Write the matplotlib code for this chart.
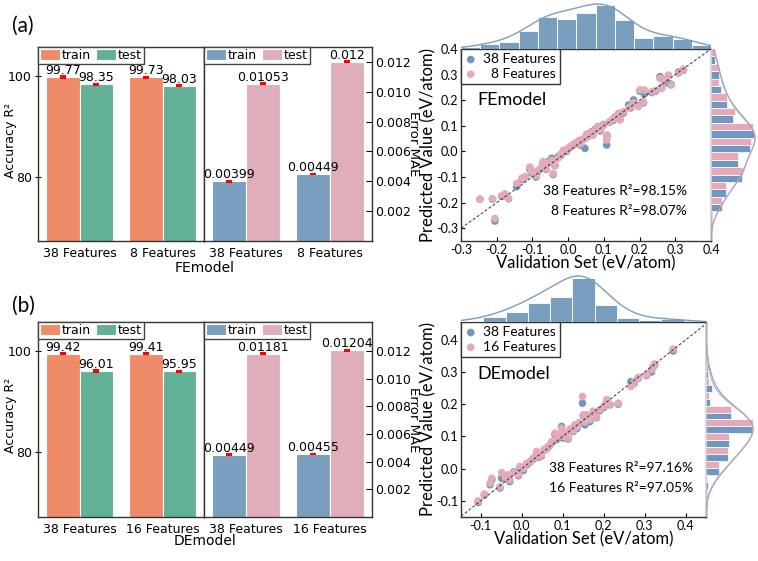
import numpy as np
import matplotlib
matplotlib.use('Agg')
import matplotlib.pyplot as plt
from matplotlib.ticker import FormatStrFormatter

plt.rcParams['axes.unicode_minus'] = False
plt.rcParams['font.family'] = ['DejaVu Sans']
SC_FONT = ['Lato', 'DejaVu Sans']

# ---------------- data ----------------
groups_a = ['38 Features', '8 Features']
groups_b = ['38 Features', '16 Features']
r2_train_a = [99.77, 99.73]
r2_test_a = [98.35, 98.03]
mae_train_a = [0.00399, 0.00449]
mae_test_a = [0.01053, 0.012]
r2_train_b = [99.42, 99.41]
r2_test_b = [96.01, 95.95]
mae_train_b = [0.00449, 0.00455]
mae_test_b = [0.01181, 0.01204]
r2_err = 0.12
mae_err = 0.00003

# scatter (a): validation values and predictions
sa_x = [-0.247, -0.212, -0.205, -0.186, -0.177, -0.167, -0.144, -0.130, -0.120, -0.107,
        -0.102, -0.095, -0.090, -0.085, -0.074, -0.070, -0.062, -0.055, -0.046, -0.042,
        -0.037, -0.028, -0.020, -0.013, -0.005, 0.000, 0.005, 0.010, 0.015, 0.019,
        0.025, 0.030, 0.035, 0.040, 0.047, 0.052, 0.056, 0.060, 0.066, 0.070,
        0.075, 0.080, 0.084, 0.090, 0.095, 0.100, 0.108, 0.109, 0.117, 0.125,
        0.131, 0.141, 0.145, 0.155, 0.169, 0.175, 0.183, 0.197, 0.201, 0.211,
        0.213, 0.234, 0.245, 0.257, 0.262, 0.267, 0.281, 0.288, 0.309, 0.323]
sa_y38 = [-0.187, -0.187, -0.272, -0.176, -0.170, -0.185, -0.138, -0.110, -0.100, -0.070,
          -0.085, -0.090, -0.100, -0.080, -0.065, -0.045, -0.070, -0.040, -0.027, -0.090,
          -0.055, -0.020, -0.015, 0.000, 0.000, 0.010, 0.015, 0.020, 0.025, 0.030,
          0.035, 0.040, 0.025, 0.045, 0.012, 0.066, 0.060, 0.070, 0.077, 0.065,
          0.085, 0.090, 0.097, 0.080, 0.100, 0.105, 0.025, 0.060, 0.115, 0.120,
          0.130, 0.145, 0.125, 0.150, 0.181, 0.170, 0.201, 0.178, 0.235, 0.190,
          0.224, 0.230, 0.235, 0.292, 0.250, 0.280, 0.266, 0.262, 0.310, 0.318]
sa_y8 = [-0.187, -0.185, -0.262, -0.173, -0.166, -0.183, -0.125, -0.105, -0.098, -0.061,
         -0.079, -0.088, -0.095, -0.075, -0.060, -0.040, -0.068, -0.045, -0.035, -0.086,
         -0.053, -0.027, -0.010, 0.005, 0.005, 0.012, 0.018, 0.022, 0.028, 0.031,
         0.033, 0.042, 0.030, 0.048, 0.050, 0.064, 0.058, 0.072, 0.075, 0.068,
         0.082, 0.088, 0.095, 0.085, 0.098, 0.103, 0.045, 0.064, 0.116, 0.125,
         0.136, 0.149, 0.123, 0.155, 0.170, 0.175, 0.190, 0.175, 0.240, 0.194,
         0.240, 0.233, 0.238, 0.285, 0.246, 0.279, 0.298, 0.259, 0.305, 0.321]

# scatter (b)
sb_x = [-0.106, -0.091, -0.077, -0.073, -0.053, -0.049, -0.040, -0.033, -0.029, -0.020,
        -0.008, -0.004, 0.004, 0.012, 0.020, 0.028, 0.036, 0.042, 0.048, 0.055,
        0.061, 0.067, 0.073, 0.081, 0.085, 0.090, 0.097, 0.100, 0.105, 0.113,
        0.118, 0.125, 0.130, 0.135, 0.140, 0.148, 0.150, 0.154, 0.158, 0.162,
        0.166, 0.174, 0.182, 0.190, 0.200, 0.207, 0.215, 0.235, 0.266, 0.274,
        0.284, 0.304, 0.316, 0.320, 0.324, 0.369]
sb_y38 = [-0.105, -0.082, -0.050, -0.035, -0.060, -0.030, -0.030, -0.022, -0.040, -0.010,
          -0.022, 0.002, -0.006, 0.012, 0.020, 0.030, 0.048, 0.035, 0.040, 0.058,
          0.062, 0.070, 0.080, 0.105, 0.090, 0.100, 0.131, 0.095, 0.108, 0.092,
          0.120, 0.115, 0.135, 0.125, 0.140, 0.203, 0.165, 0.136, 0.165, 0.155,
          0.146, 0.175, 0.158, 0.180, 0.190, 0.210, 0.198, 0.200, 0.270, 0.265,
          0.281, 0.289, 0.300, 0.315, 0.322, 0.365]
sb_y16 = [-0.100, -0.079, -0.045, -0.030, -0.056, -0.012, -0.027, -0.019, -0.035, -0.012,
          -0.019, 0.007, 0.000, 0.017, 0.022, 0.033, 0.053, 0.038, 0.043, 0.060,
          0.064, 0.072, 0.084, 0.110, 0.095, 0.105, 0.125, 0.100, 0.110, 0.095,
          0.123, 0.118, 0.136, 0.130, 0.143, 0.224, 0.167, 0.145, 0.167, 0.160,
          0.152, 0.178, 0.160, 0.183, 0.195, 0.214, 0.200, 0.203, 0.255, 0.268,
          0.283, 0.291, 0.307, 0.317, 0.325, 0.371]

# marginal histogram counts
top_a_counts = [1.7, 5.3, 7.0, 18.3, 32.0, 30.0, 35.7, 44.3, 28.7, 11.0, 12.7, 9.7, 4.0]
right_a_38 = [0, 0, 11.0, 15.0, 31.3, 27.3, 39.3, 43.3, 21.7, 16.3, 9.7, 8.0, 4.0]
right_a_8 = [0, 0, 11.3, 14.7, 31.7, 27.3, 39.7, 42.3, 24.3, 16.3, 8.3, 8.3, 4.3]
top_b_counts = [1.0, 5.0, 10.0, 19.3, 25.0, 44.3, 17.0, 4.3, 2.0, 2.7, 0.0]
right_b_38 = [0, 0, 1.7, 13.3, 22.3, 23.3, 46.3, 24.7, 4.3, 5.7, 2.3, 0, 0, 0]
right_b_16 = [0, 0, 0.7, 13.3, 22.3, 23.3, 47.3, 24.7, 3.0, 3.0, 3.0, 0, 0, 0]

# ---------------- style ----------------
C_TRAIN_R2 = '#EF8B69'
C_TEST_R2 = '#62B197'
C_TRAIN_MAE = '#7A9EBD'
C_TEST_MAE = '#E0AEB9'
C_S38 = '#6F97C0'
C_SO = '#E5AABA'
C_HIST = '#7A9EBD'
SPINE = '#333333'

W, H = 758, 561
fig = plt.figure(figsize=(W / 100, H / 100), dpi=100)


def box(x0, y0, x1, y1):
    return [x0 / W, 1 - y1 / H, (x1 - x0) / W, (y1 - y0) / H]


def style_spines(ax, lw=1.0):
    for s in ax.spines.values():
        s.set_color(SPINE)
        s.set_linewidth(lw)


def bar_panel(y0, y1, groups, r2tr, r2te, maetr, maete, r2lim, maelim, xlabel, xlabel_y):
    axL = fig.add_axes(box(38, y0, 204, y1))
    axR = fig.add_axes(box(204, y0, 372, y1))
    x = np.arange(len(groups))
    w = 0.4
    for ax, tr, te, ctr, cte, err in [
        (axL, r2tr, r2te, C_TRAIN_R2, C_TEST_R2, r2_err),
        (axR, maetr, maete, C_TRAIN_MAE, C_TEST_MAE, mae_err)]:
        ax.bar(x - w / 2, tr, w, color=ctr, edgecolor='white', linewidth=0.8, label='train', zorder=2)
        ax.bar(x + w / 2, te, w, color=cte, edgecolor='white', linewidth=0.8, label='test', zorder=2)
        ax.errorbar(x - w / 2, tr, yerr=err, fmt='none', ecolor='red', capsize=2,
                    elinewidth=1.2, capthick=1.5, zorder=3)
        ax.errorbar(x + w / 2, te, yerr=err, fmt='none', ecolor='red', capsize=2,
                    elinewidth=1.2, capthick=1.5, zorder=3)
        for xi, v in zip(x - w / 2, tr):
            ax.text(xi, v, '{}'.format(v), ha='center', va='bottom', fontsize=9, zorder=4)
        for xi, v in zip(x + w / 2, te):
            ax.text(xi, v, '{}'.format(v), ha='center', va='bottom', fontsize=9, zorder=4)
        ax.set_xlim(-0.5, 1.5)
        ax.set_xticks(x, groups)
        ax.tick_params(axis='x', length=0, labelsize=9, pad=4)
        style_spines(ax)
        ax.legend(loc='upper left', ncol=2, borderaxespad=0, fontsize=9, handlelength=1.6,
                  handleheight=0.9, handletextpad=0.15, columnspacing=0.4, borderpad=0.15,
                  fancybox=False, edgecolor='#444444', framealpha=1)
    axL.set_ylim(*r2lim)
    axL.set_yticks([80, 100])
    axL.tick_params(axis='y', direction='inout', length=5, labelsize=9, pad=2)
    axL.set_ylabel('Accuracy R\u00b2', fontsize=9)
    axL.yaxis.set_label_coords(-0.125, 0.52)
    axR.set_ylim(*maelim)
    axR.set_yticks([0.002, 0.004, 0.006, 0.008, 0.010, 0.012])
    axR.yaxis.set_major_formatter(FormatStrFormatter('%.3f'))
    axR.yaxis.tick_right()
    axR.tick_params(axis='y', direction='in', length=4, labelsize=9, pad=2)
    axR.yaxis.set_label_position('right')
    axR.set_ylabel('Error MAE', fontsize=9.5, rotation=270, va='bottom')
    axR.yaxis.set_label_coords(1.21, 0.5)
    fig.text(205 / W, 1 - xlabel_y / H, xlabel, ha='center', va='center', fontsize=10)


bar_panel(47, 241, groups_a, r2_train_a, r2_test_a, mae_train_a, mae_test_a,
          (67.3, 105.7), (0, 0.013), 'FEmodel', 268)
bar_panel(322, 517, groups_b, r2_train_b, r2_test_b, mae_train_b, mae_test_b,
          (67.1, 105.7), (0, 0.0141), 'DEmodel', 541)


def kde_curve(lo, hi, counts, bw, peak):
    counts = np.asarray(counts, float)
    edges = np.linspace(lo, hi, len(counts) + 1)
    centers = 0.5 * (edges[:-1] + edges[1:])
    grid = np.linspace(lo, hi, 300)
    dens = (counts[None, :] * np.exp(-0.5 * ((grid[:, None] - centers[None, :]) / bw) ** 2)).sum(1)
    return grid, dens / dens.max() * peak


def scatter_panel(main_box, top_box, right_box, xs, y38, yo, lab_o, xlim, ylim, ticks,
                  model, r2_lines, r2_xy, top_counts, top_ylim, top_peak,
                  r38, ro, right_xlim, right_peak):
    ax = fig.add_axes(box(*main_box))
    axw = main_box[2] - main_box[0]
    ax.scatter(xs, y38, s=30, color=C_S38, edgecolors='none', label='38 Features', zorder=2)
    ax.scatter(xs, yo, s=30, color=C_SO, edgecolors='none', label=lab_o, zorder=3)
    ax.axline((0, 0), slope=1, color='#333333', lw=0.7, ls=(0, (3, 2)), zorder=4)
    ax.set_xlim(*xlim)
    ax.set_ylim(*ylim)
    ax.set_xticks(ticks)
    ax.set_yticks(ticks)
    ax.xaxis.set_major_formatter(FormatStrFormatter('%.1f'))
    ax.yaxis.set_major_formatter(FormatStrFormatter('%.1f'))
    ax.tick_params(direction='in', length=3, labelsize=9, pad=2)
    for lab in ax.get_xticklabels() + ax.get_yticklabels():
        lab.set_family(SC_FONT)
    ax.set_xlabel('Validation Set (eV/atom)', fontsize=12, family=SC_FONT, labelpad=0)
    ax.set_ylabel('Predicted Value (eV/atom)', fontsize=12, family=SC_FONT)
    ax.yaxis.set_label_coords((436 - main_box[0]) / axw, 0.5)
    style_spines(ax)
    ax.legend(loc='upper left', borderaxespad=0, fancybox=False, edgecolor='#333333',
              framealpha=1, handlelength=0.8, handletextpad=0.5, borderpad=0.3,
              labelspacing=0.2, prop={'family': SC_FONT, 'size': 10})
    ax.text(0.065, 0.735, model, transform=ax.transAxes, fontsize=13, family=SC_FONT,
            ha='left', va='center')
    for (txt, yf) in zip(r2_lines, r2_xy[1]):
        ax.text(r2_xy[0], yf, txt, transform=ax.transAxes, fontsize=10, family=SC_FONT,
                ha='right', va='center')

    # top marginal
    axt = fig.add_axes(box(*top_box))
    edges = np.linspace(xlim[0], xlim[1], len(top_counts) + 1)
    axt.bar(edges[:-1], top_counts, width=np.diff(edges), align='edge', color=C_HIST,
            edgecolor='white', linewidth=0.6)
    g, d = kde_curve(xlim[0], xlim[1], top_counts, 0.05, top_peak)
    axt.plot(g, d, color=C_HIST, lw=1.0)
    axt.set_xlim(*xlim)
    axt.set_ylim(*top_ylim)
    axt.axis('off')

    # right marginal (dodged)
    axr = fig.add_axes(box(*right_box))
    edges = np.linspace(ylim[0], ylim[1], len(r38) + 1)
    bh = np.diff(edges) / 2
    axr.barh(edges[:-1], r38, height=bh, align='edge', color=C_S38, edgecolor='white',
             linewidth=0.5)
    axr.barh(edges[:-1] + bh, ro, height=bh, align='edge', color=C_SO, edgecolor='white',
             linewidth=0.5)
    g, d = kde_curve(ylim[0], ylim[1], r38, 0.05, right_peak)
    axr.plot(d, g, color=C_S38, lw=0.9, alpha=0.8)
    g, d = kde_curve(ylim[0], ylim[1], ro, 0.05, right_peak)
    axr.plot(d, g, color='#C9A0B8', lw=0.9, alpha=0.9)
    axr.set_ylim(*ylim)
    axr.set_xlim(*right_xlim)
    axr.axis('off')


scatter_panel((461, 49, 711, 241), (461, 0, 711, 49), (711, 49, 758, 241),
              sa_x, sa_y38, sa_y8, '\u20078 Features', (-0.3, 0.4), (-0.35, 0.4),
              [-0.3, -0.2, -0.1, 0.0, 0.1, 0.2, 0.3, 0.4], 'FEmodel',
              ['38 Features R\u00b2=98.15%', '8 Features R\u00b2=98.07%'], (0.904, [0.26, 0.156]),
              top_a_counts, (0, 49), 45, right_a_38, right_a_8, (0, 47), 44)

scatter_panel((461, 322, 706, 517), (461, 275, 706, 322), (706, 322, 758, 517),
              sb_x, sb_y38, sb_y16, '16 Features', (-0.148, 0.449), (-0.15, 0.455),
              [-0.1, 0.0, 0.1, 0.2, 0.3, 0.4], 'DEmodel',
              ['38 Features R\u00b2=97.16%', '16 Features R\u00b2=97.05%'], (0.948, [0.25, 0.147]),
              top_b_counts, (0, 47), 46, right_b_38, right_b_16, (0, 52), 47)

fig.text(23 / W, 1 - 26 / H, '(a)', ha='center', va='center', fontsize=15, family=SC_FONT)
fig.text(23 / W, 1 - 306 / H, '(b)', ha='center', va='center', fontsize=15, family=SC_FONT)

fig.savefig('out.png', dpi=100)
